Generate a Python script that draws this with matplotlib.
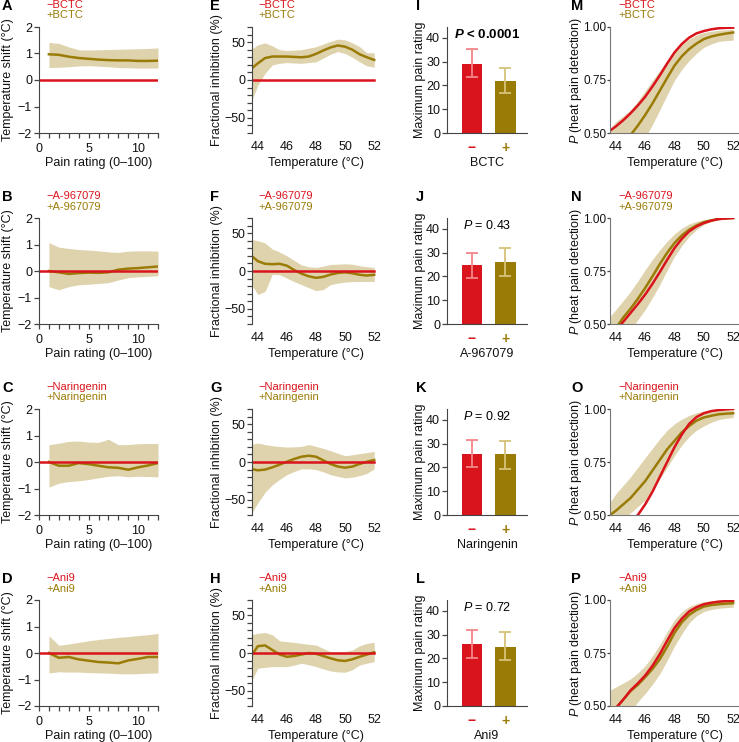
import numpy as np
import matplotlib
matplotlib.use("Agg")
import matplotlib.pyplot as plt
from matplotlib.ticker import MultipleLocator, FixedLocator

plt.rcParams['font.family'] = ['Liberation Sans', 'DejaVu Sans']
plt.rcParams['mathtext.fontset'] = 'custom'
plt.rcParams['mathtext.rm'] = 'Liberation Sans'
plt.rcParams['mathtext.it'] = 'Liberation Sans:italic'
plt.rcParams['mathtext.bf'] = 'Liberation Sans:bold'
plt.rcParams['mathtext.bfit'] = 'Liberation Sans:italic:bold'

RED = '#d9141c'
OLIVE = '#9a7b06'
BAND = '#dfd3ad'
RED_LIGHT = '#f4868a'
OLIVE_LIGHT = '#d7c27a'
SPINE = '#444444'

drugs = ['BCTC', 'A-967079', 'Naringenin', 'Ani9']
letters = [['A', 'E', 'I', 'M'], ['B', 'F', 'J', 'N'], ['C', 'G', 'K', 'O'], ['D', 'H', 'L', 'P']]

# ---- Column 1: temperature shift vs pain rating ----
rating = [1, 2, 3, 4, 5, 6, 7, 8, 9, 10, 11, 12]
shift_mean = [
    [0.97, 0.95, 0.88, 0.83, 0.80, 0.77, 0.75, 0.74, 0.74, 0.72, 0.72, 0.73],
    [0.0, -0.05, -0.11, -0.08, -0.06, -0.07, -0.05, 0.05, 0.09, 0.11, 0.14, 0.17],
    [0.0, -0.14, -0.14, -0.04, -0.08, -0.14, -0.20, -0.22, -0.29, -0.20, -0.13, -0.04],
    [0.0, -0.18, -0.15, -0.24, -0.29, -0.34, -0.36, -0.39, -0.28, -0.22, -0.15, -0.15],
]
shift_upper = [
    [1.42, 1.38, 1.25, 1.14, 1.13, 1.14, 1.15, 1.16, 1.17, 1.18, 1.19, 1.21],
    [1.07, 0.90, 0.85, 0.81, 0.79, 0.76, 0.72, 0.70, 0.75, 0.76, 0.76, 0.75],
    [0.65, 0.71, 0.78, 0.79, 0.75, 0.74, 0.86, 0.65, 0.66, 0.69, 0.70, 0.70],
    [0.65, 0.29, 0.34, 0.40, 0.46, 0.51, 0.55, 0.59, 0.62, 0.66, 0.69, 0.74],
]
shift_lower = [
    [0.47, 0.48, 0.50, 0.53, 0.54, 0.52, 0.50, 0.47, 0.46, 0.45, 0.45, 0.45],
    [-0.59, -0.71, -0.59, -0.52, -0.50, -0.47, -0.44, -0.34, -0.25, -0.22, -0.20, -0.18],
    [-0.95, -0.80, -0.74, -0.71, -0.66, -0.60, -0.54, -0.52, -0.56, -0.54, -0.55, -0.56],
    [-0.75, -0.71, -0.72, -0.72, -0.74, -0.75, -0.76, -0.78, -0.79, -0.78, -0.76, -0.75],
]

# ---- Column 2: fractional inhibition vs temperature ----
temp = [43.5, 44.0, 44.5, 45.0, 45.5, 46.0, 46.5, 47.0, 47.5, 48.0, 48.5, 49.0, 49.5, 50.0, 50.5, 51.0, 51.5, 52.0]
inh_mean = [
    [14, 22, 29, 31, 31, 31, 30.5, 30, 31, 34.5, 39, 43, 45.6, 44, 40, 34, 30, 26.5],
    [21, 13, 9.5, 9, 9.5, 7, 1.3, -3.5, -7, -9, -7.8, -4.7, -2.6, -1.7, -3, -5, -6, -5],
    [-9, -11, -10, -7, -3.5, 0.4, 4, 7, 8.3, 7, 2.2, -2.6, -6, -7.5, -6, -2.6, 0.4, 2.6],
    [-5, 9, 10, 4, -2, -5, -4, -2, 0, -1, -4, -7, -9.6, -10.5, -8.3, -5, -2, 1],
]
inh_upper = [
    [40, 46.5, 49, 45, 40, 39, 39.5, 40, 42, 44, 47.5, 51, 54, 53, 49, 44, 36, 36],
    [42, 40, 37, 29, 25, 20, 14, 8, 5.6, 4.7, 6.5, 8.6, 9, 9.5, 9, 7, 5.6, 4.7],
    [23, 25, 23, 21.5, 20.5, 19.7, 20, 20.6, 23, 20.6, 18, 15, 11.5, 8.3, 9.5, 11, 12.5, 14],
    [24, 26, 27, 24, 16, 15, 14, 12.7, 11.5, 10.5, 6, 1.8, 1.8, 1.8, 4, 9.6, 12.7, 14],
]
inh_lower = [
    [-31, -7, 9, 20, 22, 23, 22.5, 22, 23, 24, 29, 34, 37.6, 35, 30, 24, 18.6, 17],
    [-16, -31, -27, -4.3, -5, -9.5, -14, -18, -22, -26, -24.5, -18, -16, -14.7, -14, -13.8, -13.8, -13.8],
    [-70, -54, -40, -30, -23, -16.7, -12.5, -9, -9, -10, -13, -16.7, -19, -21, -20, -18, -15, -9],
    [-40, -20, -19, -18, -18, -18, -16, -13.6, -15.5, -18, -21, -23.7, -25, -25.4, -22, -15.8, -13.5, -11.4],
]

# ---- Column 3: maximum pain rating ----
bar_labels = ['\u2212', '+']
bar_mean = [[29, 22], [25, 26], [25.5, 25.5], [26, 25]]
bar_low = [[23.5, 17], [19.5, 20], [20, 19.5], [20, 19.5]]
bar_high = [[35.5, 27.5], [30, 32], [31.5, 31], [32, 31]]
p_texts = [r'$\mathbfit{P}$ < 0.0001', r'$\mathit{P}$ = 0.43', r'$\mathit{P}$ = 0.92', r'$\mathit{P}$ = 0.72']
p_bold = [True, False, False, False]

# ---- Column 4: probability of heat pain detection ----
ptemp = [43.6, 44.0, 44.5, 45.0, 45.5, 46.0, 46.5, 47.0, 47.5, 48.0, 48.5, 49.0, 49.5, 50.0, 50.5, 51.0, 51.5, 52.0]
p_red = [
    [0.511, 0.531, 0.560, 0.593, 0.630, 0.671, 0.720, 0.772, 0.828, 0.880, 0.920, 0.950, 0.970, 0.981, 0.989, 0.994, 0.996, 0.997],
    [0.42, 0.47, 0.51, 0.552, 0.594, 0.639, 0.690, 0.745, 0.803, 0.858, 0.902, 0.937, 0.960, 0.976, 0.987, 0.995, 0.998, 1.0],
    [0.38, 0.40, 0.44, 0.47, 0.50, 0.55, 0.61, 0.68, 0.75, 0.82, 0.88, 0.93, 0.962, 0.980, 0.990, 0.995, 0.998, 1.0],
    [0.46, 0.49, 0.53, 0.574, 0.607, 0.644, 0.690, 0.745, 0.808, 0.868, 0.912, 0.946, 0.966, 0.980, 0.987, 0.992, 0.995, 0.997],
]
p_olive = [
    [0.40, 0.42, 0.45, 0.49, 0.535, 0.585, 0.640, 0.700, 0.760, 0.818, 0.862, 0.896, 0.922, 0.943, 0.955, 0.963, 0.969, 0.974],
    [0.43, 0.48, 0.53, 0.572, 0.619, 0.670, 0.725, 0.783, 0.836, 0.882, 0.918, 0.945, 0.965, 0.980, 0.989, 0.995, 0.998, 1.0],
    [0.50, 0.52, 0.55, 0.58, 0.62, 0.66, 0.71, 0.76, 0.81, 0.85, 0.89, 0.92, 0.945, 0.96, 0.968, 0.975, 0.978, 0.98],
    [0.46, 0.49, 0.53, 0.570, 0.600, 0.636, 0.675, 0.721, 0.780, 0.845, 0.895, 0.930, 0.953, 0.969, 0.976, 0.980, 0.983, 0.985],
]
p_upper = [
    [0.52, 0.554, 0.580, 0.609, 0.650, 0.700, 0.748, 0.795, 0.842, 0.888, 0.920, 0.943, 0.962, 0.974, 0.980, 0.984, 0.987, 0.989],
    [0.536, 0.568, 0.610, 0.654, 0.703, 0.756, 0.805, 0.850, 0.890, 0.925, 0.952, 0.972, 0.984, 0.992, 0.997, 1.0, 1.0, 1.0],
    [0.56, 0.60, 0.64, 0.68, 0.725, 0.77, 0.815, 0.86, 0.90, 0.93, 0.952, 0.97, 0.982, 0.99, 0.993, 0.995, 0.995, 0.995],
    [0.574, 0.590, 0.608, 0.628, 0.656, 0.690, 0.737, 0.790, 0.850, 0.907, 0.945, 0.969, 0.983, 0.992, 0.997, 1.0, 1.0, 1.0],
]
p_lower = [
    [0.30, 0.32, 0.35, 0.38, 0.43, 0.48, 0.54, 0.609, 0.680, 0.749, 0.800, 0.842, 0.876, 0.904, 0.920, 0.932, 0.936, 0.938],
    [0.35, 0.39, 0.43, 0.47, 0.52, 0.568, 0.625, 0.686, 0.754, 0.819, 0.870, 0.913, 0.945, 0.969, 0.983, 0.992, 0.996, 1.0],
    [0.40, 0.43, 0.47, 0.51, 0.54, 0.57, 0.62, 0.67, 0.725, 0.78, 0.83, 0.87, 0.90, 0.92, 0.937, 0.95, 0.956, 0.96],
    [0.38, 0.41, 0.44, 0.47, 0.52, 0.559, 0.603, 0.652, 0.715, 0.783, 0.840, 0.892, 0.925, 0.946, 0.955, 0.961, 0.964, 0.966],
]

W, H = 739, 742
fig = plt.figure(figsize=(W / 100, H / 100), dpi=100)

row_tops = [27, 218, 409, 600]
AX_H = 106
cols = [(39, 158), (252, 380), (447, 527), (610, 739)]
letter_x = [2, 210, 416, 571]
legend_x = [46, 258, None, 618]
ylabel_x = [14, 223, 426, 584]


def px_axes(left, right, top, bottom):
    return fig.add_axes([left / W, 1 - bottom / H, (right - left) / W, (bottom - top) / H])


def style(ax, bottom=True):
    for s in ['top', 'right']:
        ax.spines[s].set_visible(False)
    ax.spines['left'].set_color(SPINE)
    ax.spines['bottom'].set_color(SPINE)
    ax.spines['bottom'].set_visible(bottom)
    ax.tick_params(colors=SPINE, labelcolor='#111111', labelsize=9, width=0.9, length=3.5)
    ax.tick_params(axis='y', pad=1.5)
    ax.tick_params(which='minor', colors=SPINE, width=0.9, length=3.5)
    ax.patch.set_alpha(0)


def set_ylabel(ax, text, col):
    ax.set_ylabel(text, fontsize=9, color='#111111')
    l, r = cols[col]
    ax.yaxis.set_label_coords((ylabel_x[col] - l) / (r - l), 0.5)


def set_xlabel(ax, text, col, below=24):
    ax.set_xlabel(text, fontsize=9, color='#111111')
    ax.xaxis.set_label_coords(0.5, -below / AX_H)


for r, drug in enumerate(drugs):
    top = row_tops[r]
    bot = top + AX_H

    # Column 1
    ax = px_axes(cols[0][0], cols[0][1], top, bot)
    style(ax)
    ax.fill_between(rating, shift_lower[r], shift_upper[r], color=BAND, lw=0)
    ax.plot(rating, shift_mean[r], color=OLIVE, lw=1.8)
    ax.plot([0, 12], [0, 0], color=RED, lw=1.8)
    ax.set_xlim(0, 12)
    ax.set_ylim(-2, 2)
    ax.set_xticks([0, 5, 10])
    ax.xaxis.set_minor_locator(FixedLocator(list(range(1, 13))))
    ax.set_yticks([-2, -1, 0, 1, 2])
    ax.set_yticklabels(['\u22122', '\u22121', '0', '1', '2'])
    set_ylabel(ax, 'Temperature shift (\u00b0C)', 0)
    set_xlabel(ax, 'Pain rating (0\u2013100)', 0)

    # Column 2
    ax = px_axes(cols[1][0], cols[1][1], top, bot)
    style(ax, bottom=False)
    ax.fill_between(temp, inh_lower[r], inh_upper[r], color=BAND, lw=0)
    ax.plot(temp, inh_mean[r], color=OLIVE, lw=1.8)
    ax.plot([temp[0], temp[-1]], [0, 0], color=RED, lw=1.8)
    ax.set_xlim(43.6, 52.4)
    ax.set_ylim(-70, 70)
    ax.set_xticks([44, 46, 48, 50, 52])
    ax.tick_params(axis='x', length=0, pad=6)
    ax.set_yticks([-50, 0, 50])
    ax.set_yticklabels(['\u221250', '0', '50'])
    ax.yaxis.set_minor_locator(MultipleLocator(10))
    set_ylabel(ax, 'Fractional inhibition (%)', 1)
    set_xlabel(ax, 'Temperature (\u00b0C)', 1)

    # Column 3
    ax = px_axes(cols[2][0], cols[2][1], top, bot)
    style(ax)
    xs = [0, 1]
    bar_cols = [RED, OLIVE]
    err_cols = [RED_LIGHT, OLIVE_LIGHT]
    for i in range(2):
        ax.bar(xs[i], bar_mean[r][i], width=0.6, color=bar_cols[i], zorder=2)
        ax.errorbar(xs[i], bar_mean[r][i],
                    yerr=[[bar_mean[r][i] - bar_low[r][i]], [bar_high[r][i] - bar_mean[r][i]]],
                    color=err_cols[i], capsize=4.5, elinewidth=1.3, capthick=1.3, zorder=3)
    ax.set_xlim(-0.746, 1.642)
    ax.set_ylim(0, 44.6)
    ax.set_yticks([0, 10, 20, 30, 40])
    ax.set_xticks(xs)
    ax.set_xticklabels(bar_labels, fontsize=10, fontweight='bold')
    for lab, c in zip(ax.get_xticklabels(), bar_cols):
        lab.set_color(c)
    ax.tick_params(axis='x', length=0, pad=6)
    set_ylabel(ax, 'Maximum pain rating', 2)
    set_xlabel(ax, drug, 2)
    ax.text(0.5, 0.995, p_texts[r], transform=ax.transAxes, ha='center', va='top',
            fontsize=9.5 if p_bold[r] else 9, fontweight='bold' if p_bold[r] else 'normal')

    # Column 4
    ax = px_axes(cols[3][0], cols[3][1], top, bot)
    style(ax)
    ax.fill_between(ptemp, p_lower[r], p_upper[r], color=BAND, lw=0)
    ax.plot(ptemp, p_olive[r], color=OLIVE, lw=1.8)
    ax.plot(ptemp, p_red[r], color=RED, lw=1.8)
    ax.set_xlim(43.6, 52.4)
    ax.set_ylim(0.5, 1.0)
    ax.set_xticks([44, 46, 48, 50, 52])
    ax.tick_params(axis='x', length=0, pad=6)
    ax.tick_params(axis='y', length=2, pad=0.5, labelsize=8.5)
    ax.set_yticks([0.5, 0.75, 1.0])
    ax.set_yticklabels(['0.50', '0.75', '1.00'])
    ax.spines['left'].set_color('#777777')
    ax.spines['bottom'].set_color('#777777')
    set_ylabel(ax, r'$\mathit{P}$ (heat pain detection)', 3)
    set_xlabel(ax, 'Temperature (\u00b0C)', 3)

    # Panel letters and legends
    for c in range(4):
        fig.text(letter_x[c] / W, 1 - (top - 21) / H, letters[r][c], fontsize=10.5,
                 fontweight='bold', ha='left', va='center')
        if legend_x[c] is not None:
            fig.text(legend_x[c] / W, 1 - (top - 22) / H, '\u2212' + drug, color=RED,
                     fontsize=8, ha='left', va='center')
            fig.text(legend_x[c] / W, 1 - (top - 11.5) / H, '+' + drug, color=OLIVE,
                     fontsize=8, ha='left', va='center')

fig.savefig('out.png', dpi=100)
